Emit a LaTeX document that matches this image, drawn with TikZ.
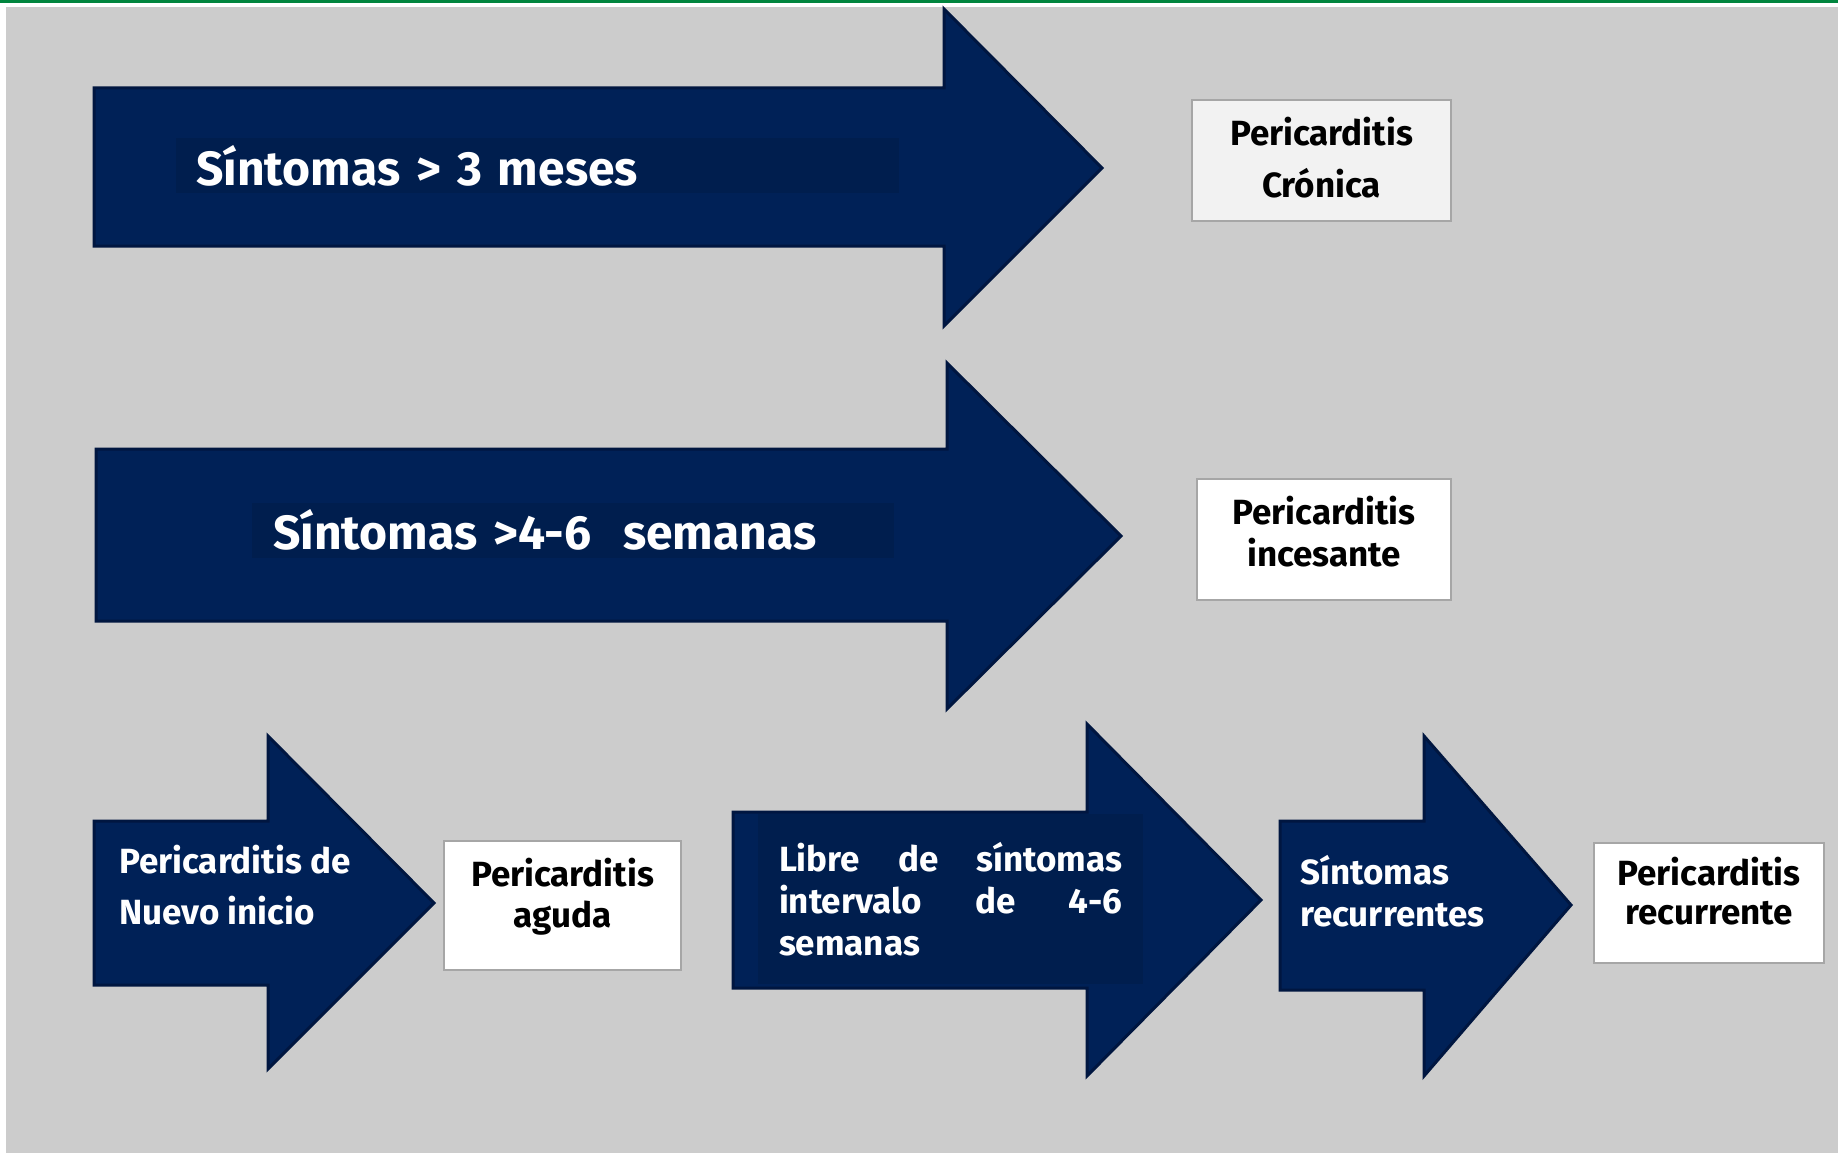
\documentclass[tikz,border=0pt]{standalone}
\usepackage{fontspec}
\setmainfont{Fira Sans}
\usetikzlibrary{positioning}
\definecolor{bggray}{HTML}{CCCCCC}
\definecolor{topgreen}{HTML}{00853E}
\definecolor{navy}{HTML}{002157}
\definecolor{navyedge}{HTML}{001640}
\definecolor{navyinner}{HTML}{001E4E}
\definecolor{boxedge}{HTML}{A6A6A6}
\definecolor{boxlight}{HTML}{F2F2F2}

\begin{document}
\begin{tikzpicture}[
      x=1pt, y=-1pt,
      arrowshape/.style={fill=navy, draw=navyedge, line width=3pt, line join=miter},
      innerbar/.style={fill=navyinner, text=white, font=\bfseries\fontsize{48}{56}\selectfont, inner xsep=20pt, inner ysep=0pt, align=left, minimum height=55pt},
      arrowtext/.style={text=white, font=\bfseries\fontsize{35}{42}\selectfont, inner sep=0pt, align=left},
      resultbox/.style={rectangle, draw=boxedge, line width=2pt, fill=white, inner sep=0pt},
      boxtext/.style={text=black, font=\bfseries\fontsize{35}{42}\selectfont, inner sep=0pt, align=center}
      ]

      % Background
      \useasboundingbox (0,0) rectangle (1838,1153);
      \fill[white] (0,0) rectangle (1838,1153);
      \fill[bggray] (6,7) rectangle (1838,1153);
      \fill[topgreen] (0,0) rectangle (1838,3);

      % Arrows
      \draw[arrowshape] (94,88) -- (944,88) -- (944,9) -- (1102,168) -- (944,326) -- (944,246) -- (94,246) -- cycle;
      \draw[arrowshape] (96,449) -- (947,449) -- (947,363) -- (1121,536) -- (947,709) -- (947,621) -- (96,621) -- cycle;
      \draw[arrowshape] (94,821) -- (268,821) -- (268,736) -- (434,903) -- (268,1069) -- (268,985) -- (94,985) -- cycle;
      \draw[arrowshape] (733,812) -- (1087,812) -- (1087,724) -- (1261,900) -- (1087,1076) -- (1087,988) -- (733,988) -- cycle;
      \draw[arrowshape] (1280,821) -- (1424,821) -- (1424,736) -- (1571,905) -- (1424,1076) -- (1424,990) -- (1280,990) -- cycle;

      % Arrow texts
      \node[innerbar, text width=683pt, anchor=west] (tresmeses) at (176,165.5) {Síntomas > 3 meses};
      \node[innerbar, inner xsep=21pt, text width=600pt, anchor=west] (semanas) at (252,530) {Síntomas >4-6\ \ semanas};
      \node[arrowtext, font=\bfseries\fontsize{35}{51}\selectfont, anchor=base west] (nuevo) at (119,924) {Pericarditis de\\Nuevo inicio};
      \node[arrowtext, fill=navyinner, inner xsep=21pt, text width=343pt, align=justify, minimum height=170pt] (libre) at (950.5,899) {Libre de síntomas\linebreak intervalo de 4-6\linebreak semanas};
      \node[arrowtext, anchor=base west] (recurrentes) at (1300,926) {Síntomas\\recurrentes};

      % Result boxes
      \node[resultbox, fill=boxlight, minimum width=259pt, minimum height=121pt] (cronicabox) at (1321.5,160.5) {};
      \node[resultbox, minimum width=254pt, minimum height=121pt] (incesantebox) at (1324,539.5) {};
      \node[resultbox, minimum width=237pt, minimum height=129pt] (agudabox) at (562.5,905.5) {};
      \node[resultbox, minimum width=230pt, minimum height=120pt] (recurrentebox) at (1709,903) {};

      \node[boxtext, font=\bfseries\fontsize{35}{52}\selectfont, anchor=base] (cronica) at (1321.5,197) {Pericarditis\\Crónica};
      \node[boxtext, anchor=base] (incesante) at (1324,566) {Pericarditis\\incesante};
      \node[boxtext, font=\bfseries\fontsize{35}{41}\selectfont, anchor=base] (aguda) at (562.5,927) {Pericarditis\\aguda};
      \node[boxtext, font=\bfseries\fontsize{35}{39}\selectfont, anchor=base] (recurrente) at (1709,924) {Pericarditis\\recurrente};
    \end{tikzpicture}
\end{document}
